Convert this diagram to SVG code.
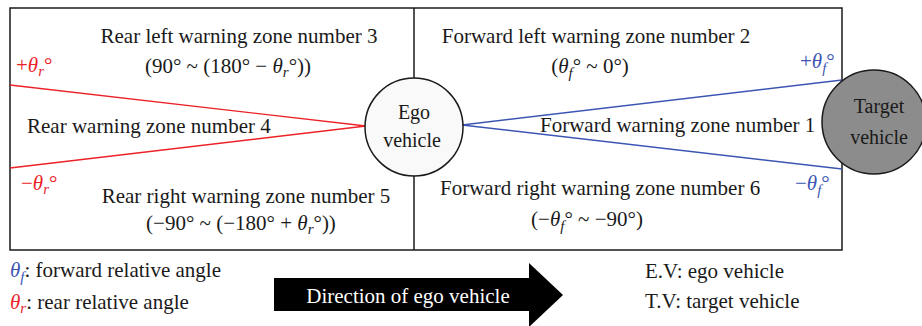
<svg xmlns="http://www.w3.org/2000/svg" width="922" height="326" viewBox="0 0 922 326">
<style>
text{font-family:"Liberation Serif","Times New Roman",serif;font-size:21px;fill:#1a1a1a}
.c{text-anchor:middle}
.i{font-style:italic}
.s{font-size:15px;font-style:italic}
.red{fill:#ec2227}
.blue{fill:#3b55b3}
.frame{fill:none;stroke:#1a1a1a;stroke-width:1.5}
.rl{stroke:#ec2227;stroke-width:1.4;fill:none}
.bl{stroke:#3b55b3;stroke-width:1.4;fill:none}
</style>
<rect width="922" height="326" fill="#ffffff"/>
<g id="frame">
<rect class="frame" x="10" y="8" width="832" height="242"/>
<line class="frame" x1="414" y1="8" x2="414" y2="250"/>
</g>
<g id="connectors">
<line class="rl" x1="10" y1="85" x2="366" y2="126"/>
<line class="rl" x1="10" y1="168" x2="366" y2="126"/>
<line class="bl" x1="462" y1="125" x2="842" y2="80"/>
<line class="bl" x1="462" y1="125" x2="842" y2="169"/>
</g>
<g id="zone3">
<text class="c" x="239" y="43">Rear left warning zone number 3</text>
<text class="c" x="228" y="73">(90° ~ (180° − <tspan class="i">θ</tspan><tspan class="s" dy="4">r</tspan><tspan dy="-4">°</tspan>))</text>
</g>
<g id="zone2">
<text class="c" x="596" y="43">Forward left warning zone number 2</text>
<text class="c" x="590" y="73">(<tspan class="i">θ</tspan><tspan class="s" dy="5">f</tspan><tspan dy="-5">°</tspan> ~ 0°)</text>
</g>
<g id="zone4">
<text x="27" y="133">Rear warning zone number 4</text>
</g>
<g id="zone5">
<text class="c" x="246" y="203">Rear right warning zone number 5</text>
<text class="c" x="241" y="230">(−90° ~ (−180° + <tspan class="i">θ</tspan><tspan class="s" dy="4">r</tspan><tspan dy="-4">°</tspan>))</text>
</g>
<g id="zone1">
<text x="540" y="132">Forward warning zone number 1</text>
</g>
<g id="zone6">
<text x="440" y="195">Forward right warning zone number 6</text>
<text class="c" x="587" y="226">(−<tspan class="i">θ</tspan><tspan class="s" dy="5">f</tspan><tspan dy="-5">°</tspan> ~ −90°)</text>
</g>
<g id="angle-labels">
<text class="red" x="16" y="72">+<tspan class="i red">θ</tspan><tspan class="s red" dy="4">r</tspan><tspan class="red" dy="-4">°</tspan></text>
<text class="red" x="21" y="190">−<tspan class="i red">θ</tspan><tspan class="s red" dy="4">r</tspan><tspan class="red" dy="-4">°</tspan></text>
<text class="blue" x="800" y="68">+<tspan class="i blue">θ</tspan><tspan class="s blue" dy="5">f</tspan><tspan class="blue" dy="-5">°</tspan></text>
<text class="blue" x="795" y="190">−<tspan class="i blue">θ</tspan><tspan class="s blue" dy="5">f</tspan><tspan class="blue" dy="-5">°</tspan></text>
</g>
<g id="ego-vehicle">
<circle cx="414" cy="127" r="49" fill="#f8f9f8" stroke="#1a1a1a" stroke-width="1.5"/>
<text class="c" x="414" y="119" style="font-size:20px">Ego</text>
<text class="c" x="412" y="147" style="font-size:20px">vehicle</text>
</g>
<g id="target-vehicle">
<circle cx="874" cy="122" r="52" fill="#8c8c8c" stroke="#1a1a1a" stroke-width="1.5"/>
<text class="c" x="879" y="113" style="font-size:20px">Target</text>
<text class="c" x="879" y="144" style="font-size:20px">vehicle</text>
</g>
<g id="legend">
<text x="10" y="277"><tspan class="i blue">θ</tspan><tspan class="s blue" dy="5">f</tspan><tspan dy="-5">: forward relative angle</tspan></text>
<text x="10" y="309"><tspan class="i red">θ</tspan><tspan class="s red" dy="4">r</tspan><tspan dy="-4">: rear relative angle</tspan></text>
<text x="645" y="278">E.V: ego vehicle</text>
<text x="645" y="308">T.V: target vehicle</text>
</g>
<g id="direction-arrow">
<polygon points="274,278 529,278 529,263 563,295 529,327 529,311 274,311" fill="#000000"/>
<text class="c" x="408" y="303" style="fill:#ffffff">Direction of ego vehicle</text>
</g>
</svg>
